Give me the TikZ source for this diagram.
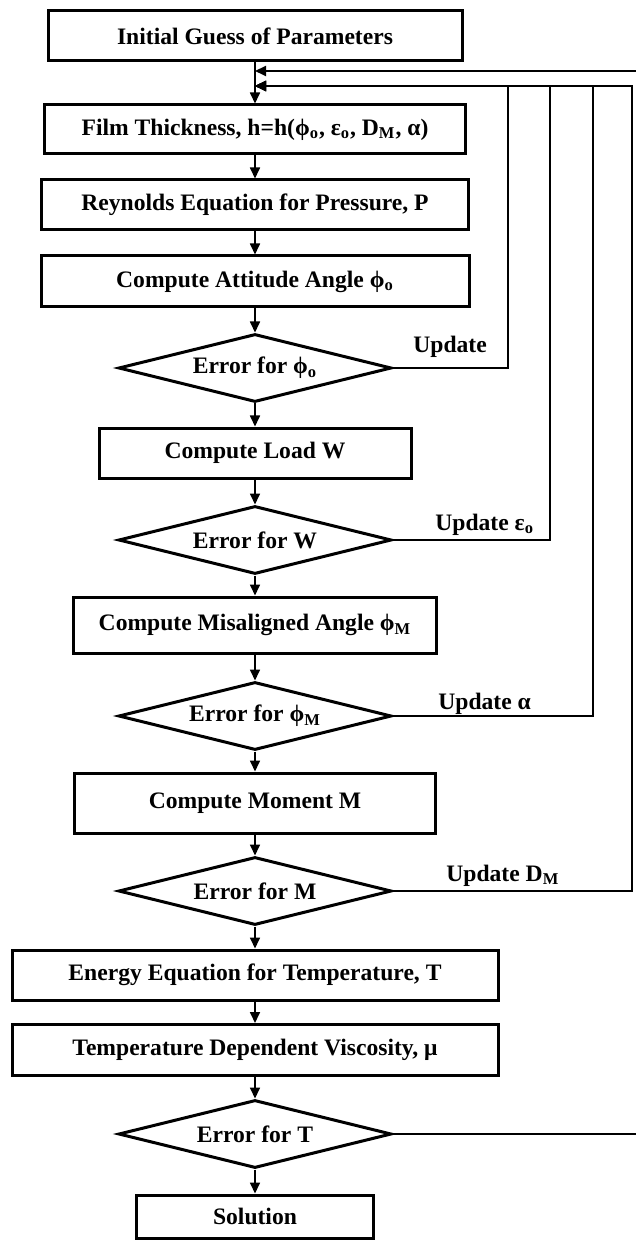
\documentclass[tikz,border=0pt]{standalone}
\usepackage{fontspec}
\setmainfont{Liberation Serif}
\usetikzlibrary{shapes.geometric,arrows.meta}
\tikzstyle{arrow} = [line width=0.85pt,->,>={Triangle[length=5.5pt,width=5pt]}]
\tikzstyle{feedback} = [line width=1pt,->,>={Triangle[length=5.5pt,width=5pt]}]
\tikzstyle{block} = [rectangle, draw, line width=1.5pt, inner sep=0pt, font=\bfseries\fontsize{11.8}{14}\selectfont]
\tikzstyle{check} = [diamond, draw, line width=1.5pt, aspect=4, inner sep=2pt, minimum width=136.5pt, minimum height=34pt, font=\bfseries\fontsize{11.8}{14}\selectfont]
\tikzstyle{update} = [inner sep=0pt, anchor=base west, font=\bfseries\fontsize{11.8}{14}\selectfont]

\begin{document}
\begin{tikzpicture}[x=0.5pt, y=-0.5pt]
        \useasboundingbox (0,0) rectangle (636,1240);

        \node (init) [block, minimum width=207pt, minimum height=25pt] at (255,36) {Initial Guess of Parameters};
        \node (film) [block, below of=init, node distance=46.75pt, minimum width=210.5pt, minimum height=24.5pt] {Film Thickness, h=h(ϕ\textsubscript{o}, ε\textsubscript{o}, D\textsubscript{M}, α)};
        \node (reyn) [block, below of=film, node distance=37.75pt, minimum width=213.5pt, minimum height=25pt] {Reynolds Equation for Pressure, P};
        \node (att) [block, below of=reyn, node distance=38.25pt, minimum width=214pt, minimum height=25.5pt] {Compute Attitude Angle ϕ\textsubscript{o}};
        \node (err_phi) [check, below of=att, node distance=43.25pt] {Error for ϕ\textsubscript{o}};
        \node (load) [block, below of=err_phi, node distance=42.5pt, minimum width=156pt, minimum height=25pt] {Compute Load W};
        \node (err_w) [check, below of=load, node distance=43.5pt] {Error for W};
        \node (misal) [block, below of=err_w, node distance=42.5pt, minimum width=181.5pt, minimum height=28pt] {Compute Misaligned Angle ϕ\textsubscript{M}};
        \node (err_phim) [check, below of=misal, node distance=45.5pt] {Error for ϕ\textsubscript{M}};
        \node (moment) [block, below of=err_phim, node distance=43.5pt, minimum width=180.5pt, minimum height=30pt] {Compute Moment M};
        \node (err_m) [check, below of=moment, node distance=44pt] {Error for M};
        \node (energy) [block, below of=err_m, node distance=42pt, minimum width=243pt, minimum height=25pt] {Energy Equation for Temperature, T};
        \node (visc) [block, below of=energy, node distance=37.5pt, minimum width=243pt, minimum height=25.5pt] {Temperature Dependent Viscosity, μ};
        \node (err_t) [check, below of=visc, node distance=42pt] {Error for T};
        \node (sol) [block, below of=err_t, node distance=41.25pt, minimum width=118.5pt, minimum height=21.5pt] {Solution};

        \draw [arrow] (init) -- (film);
        \draw [arrow] (film) -- (reyn);
        \draw [arrow] (reyn) -- (att);
        \draw [arrow] (att) -- (err_phi);
        \draw [arrow] (err_phi) -- (load);
        \draw [arrow] (load) -- (err_w);
        \draw [arrow] (err_w) -- (misal);
        \draw [arrow] (misal) -- (err_phim);
        \draw [arrow] (err_phim) -- (moment);
        \draw [arrow] (moment) -- (err_m);
        \draw [arrow] (err_m) -- (energy);
        \draw [arrow] (energy) -- (visc);
        \draw [arrow] (visc) -- (err_t);
        \draw [arrow] (err_t) -- (sol);

        \coordinate (in_t) at (255,71);
        \coordinate (in_upd) at (255,86);
        \coordinate (col_phi) at (508,86);
        \coordinate (col_w) at (550,86);
        \coordinate (col_phim) at (593,86);
        \coordinate (col_m) at (632,86);
        \coordinate (col_t) at (642,71);

        \draw [feedback] (err_phi.east) -| (col_phi) -- (in_upd);
        \draw [feedback] (err_w.east) -| (col_w) -- (in_upd);
        \draw [feedback] (err_phim.east) -| (col_phim) -- (in_upd);
        \draw [feedback] (err_m.east) -| (col_m) -- (in_upd);
        \draw [feedback] (err_t.east) -| (col_t) -- (in_t);

        \node (upd_phi) [update] at ([xshift=10pt,yshift=7.5pt]err_phi.east) {Update};
        \node (upd_eps) [update] at ([xshift=21pt,yshift=5pt]err_w.east) {Update ε\textsubscript{o}};
        \node (upd_alpha) [update] at ([xshift=22.5pt,yshift=3.5pt]err_phim.east) {Update α};
        \node (upd_dm) [update] at ([xshift=26.5pt,yshift=5pt]err_m.east) {Update D\textsubscript{M}};
    \end{tikzpicture}
\end{document}
